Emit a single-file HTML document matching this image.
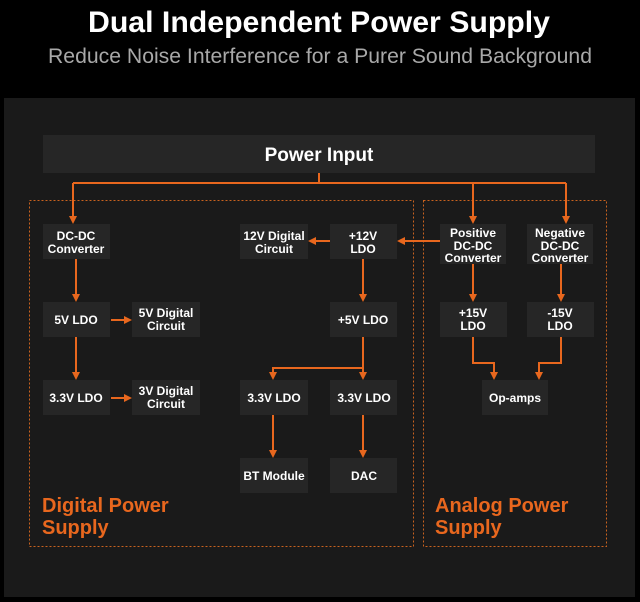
<!DOCTYPE html>
<html><head><meta charset="utf-8"><style>
html,body{margin:0;padding:0;background:#000;}
svg{display:block;}
</style></head><body>
<svg width="640" height="602" viewBox="0 0 640 602" xmlns="http://www.w3.org/2000/svg" font-family="Liberation Sans, sans-serif">
<defs>
<marker id="a" markerWidth="8" markerHeight="8" refX="4" refY="4" orient="auto" markerUnits="userSpaceOnUse">
<path d="M0,0 L8,4 L0,8 Z" fill="#e8671e"/>
</marker>
</defs>
<rect width="640" height="602" fill="#000"/>
<text x="319" y="32" text-anchor="middle" font-size="30" font-weight="bold" fill="#fff" textLength="462" lengthAdjust="spacingAndGlyphs">Dual Independent Power Supply</text>
<text x="320" y="63" text-anchor="middle" font-size="21" fill="#a8a8a8" textLength="544" lengthAdjust="spacingAndGlyphs">Reduce Noise Interference for a Purer Sound Background</text>
<rect x="4" y="98" width="631" height="499" fill="#1a1a1a"/>
<rect x="43" y="135" width="552" height="38" fill="#262626"/>
<text x="319" y="161" text-anchor="middle" font-size="19" font-weight="bold" fill="#fff">Power Input</text>
<g fill="none" stroke="#c9621e" stroke-width="1" stroke-dasharray="2,2">
<rect x="29.5" y="200.5" width="384" height="346"/>
<rect x="423.5" y="200.5" width="183" height="346"/>
</g>
<g fill="#262626">
<rect x="43" y="224" width="67" height="35"/>
<rect x="240" y="224" width="68" height="35"/>
<rect x="330" y="224" width="67" height="35"/>
<rect x="440" y="224" width="66" height="40"/>
<rect x="527" y="224" width="66" height="40"/>
<rect x="43" y="302" width="67" height="35"/>
<rect x="132" y="302" width="68" height="35"/>
<rect x="330" y="302" width="67" height="35"/>
<rect x="440" y="302" width="67" height="35"/>
<rect x="527" y="302" width="67" height="35"/>
<rect x="43" y="380" width="67" height="35"/>
<rect x="132" y="380" width="68" height="35"/>
<rect x="240" y="380" width="68" height="35"/>
<rect x="330" y="380" width="67" height="35"/>
<rect x="482" y="380" width="66" height="35"/>
<rect x="240" y="458" width="68" height="35"/>
<rect x="330" y="458" width="67" height="35"/>
</g>
<g fill="none" stroke="#e8671e" stroke-width="2">
<path d="M319,173 V183 M73,183 H566"/>
<path d="M73,183 V220" marker-end="url(#a)"/>
<path d="M473,183 V220" marker-end="url(#a)"/>
<path d="M566,183 V220" marker-end="url(#a)"/>
<path d="M440,241 H401" marker-end="url(#a)"/>
<path d="M330,241 H312" marker-end="url(#a)"/>
<path d="M363,259 V298" marker-end="url(#a)"/>
<path d="M76,259 V298" marker-end="url(#a)"/>
<path d="M76,337 V376" marker-end="url(#a)"/>
<path d="M111,320 H128" marker-end="url(#a)"/>
<path d="M111,398 H128" marker-end="url(#a)"/>
<path d="M363,337 V376" marker-end="url(#a)"/>
<path d="M363,368 H273 V376" marker-end="url(#a)"/>
<path d="M273,415 V454" marker-end="url(#a)"/>
<path d="M363,415 V454" marker-end="url(#a)"/>
<path d="M473,264 V298" marker-end="url(#a)"/>
<path d="M561,264 V298" marker-end="url(#a)"/>
<path d="M473,337 V363 H494 V376" marker-end="url(#a)"/>
<path d="M561,337 V363 H539 V376" marker-end="url(#a)"/>
</g>
<g fill="#fff" font-size="12" font-weight="bold" text-anchor="middle">
<text x="76" y="240">DC-DC</text><text x="76" y="253">Converter</text>
<text x="274" y="240">12V Digital</text><text x="274" y="253">Circuit</text>
<text x="363" y="240">+12V</text><text x="363" y="253">LDO</text>
<text x="473" y="237">Positive</text><text x="473" y="250">DC-DC</text><text x="473" y="262">Converter</text>
<text x="560" y="237">Negative</text><text x="560" y="250">DC-DC</text><text x="560" y="262">Converter</text>
<text x="76" y="324">5V LDO</text>
<text x="166" y="317">5V Digital</text><text x="166" y="330">Circuit</text>
<text x="363" y="324">+5V LDO</text>
<text x="473" y="317">+15V</text><text x="473" y="330">LDO</text>
<text x="560" y="317">-15V</text><text x="560" y="330">LDO</text>
<text x="76" y="402">3.3V LDO</text>
<text x="166" y="395">3V Digital</text><text x="166" y="408">Circuit</text>
<text x="274" y="402">3.3V LDO</text>
<text x="364" y="402">3.3V LDO</text>
<text x="515" y="402">Op-amps</text>
<text x="274" y="480">BT Module</text>
<text x="364" y="480">DAC</text>
</g>
<g fill="#e8671e" font-size="20" font-weight="bold">
<text x="42" y="512">Digital Power</text><text x="42" y="534">Supply</text>
<text x="435" y="512">Analog Power</text><text x="435" y="534">Supply</text>
</g>
</svg>
</body></html>
